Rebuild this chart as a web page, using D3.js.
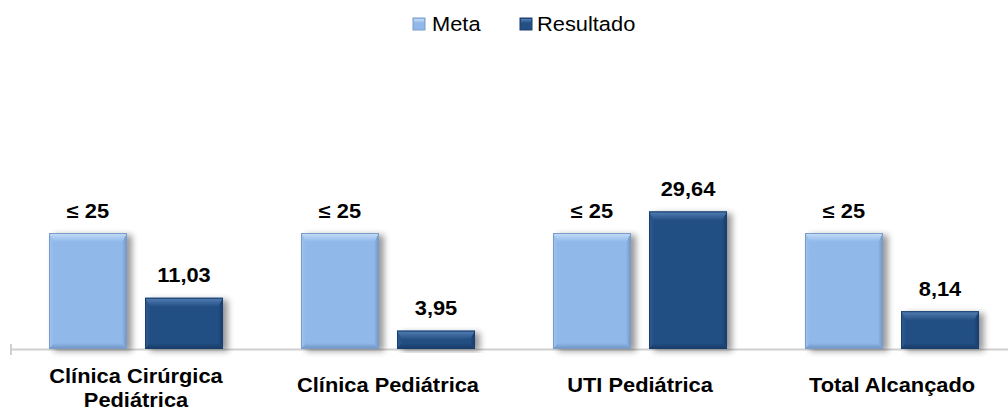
<!DOCTYPE html>
<html>
<head>
<meta charset="utf-8">
<script src="https://cdn.jsdelivr.net/npm/d3@7"></script>
<style>
  body { margin: 0; background: #fff; }
  svg { display: block; font-family: "Liberation Sans", Arial, sans-serif; }
</style>
</head>
<body>
<svg></svg>
<script>
"use strict";

const categories = ["Clínica Cirúrgica\nPediátrica", "Clínica Pediátrica", "UTI Pediátrica", "Total Alcançado"];
const seriesNames = ["Meta", "Resultado"];
const metaValues = [25, 25, 25, 25];
const metaLabels = ["≤ 25", "≤ 25", "≤ 25", "≤ 25"];
const resultValues = [11.03, 3.95, 29.64, 8.14];

const width = 1008;
const height = 417;
const stretch = 1.12;

const colors = {
  Meta: { face: "#90b8e9", top: "#c6def8", left: "#9fc3ee", right: "#6e93c2", bottom: "#6f92c0", edge: "#7a9ccb" },
  Resultado: { face: "#244f83", top: "#5580b6", left: "#2f5c93", right: "#163a66", bottom: "#163a66", edge: "#1a3f6c" }
};

const svg = d3.select("svg").attr("width", width).attr("height", height);

const defs = svg.append("defs");
defs.append("filter").attr("id", "shadow")
  .attr("x", "-20%").attr("y", "-20%").attr("width", "150%").attr("height", "140%")
  .append("feDropShadow")
  .attr("dx", 5).attr("dy", 2).attr("stdDeviation", 3)
  .attr("flood-color", "#000").attr("flood-opacity", 0.4);

// bevel gradients per series and side
const gradDirs = {
  top: [0, 0, 0, 1], bottom: [0, 1, 0, 0], left: [0, 0, 1, 0], right: [1, 0, 0, 0]
};
seriesNames.forEach((name) => {
  const c = colors[name];
  Object.keys(gradDirs).forEach((side) => {
    const d = gradDirs[side];
    const g = defs.append("linearGradient").attr("id", `g-${name}-${side}`)
      .attr("x1", d[0]).attr("y1", d[1]).attr("x2", d[2]).attr("y2", d[3]);
    g.append("stop").attr("offset", 0).attr("stop-color", c[side]);
    g.append("stop").attr("offset", 1).attr("stop-color", c.face);
  });
});

const x = d3.scaleBand().domain(categories).range([10, 1018]).padding(0);
const xs = d3.scaleBand().domain(seriesNames).range([0, x.bandwidth()])
  .paddingInner(0.1875).paddingOuter(0.406);
const y = d3.scaleLinear().domain([0, 25]).range([349, 233]);

const label = (g, px, py, str, size, weight) =>
  g.append("text")
    .attr("transform", `translate(${px},${py}) scale(${stretch},1)`)
    .attr("text-anchor", "middle")
    .attr("font-size", size)
    .attr("font-weight", weight)
    .attr("fill", "#000")
    .text(str);

// axis line + single left tick
const axis = svg.append("g");
axis.append("line")
  .attr("x1", x.range()[0]).attr("x2", width)
  .attr("y1", y(0) + 0.5).attr("y2", y(0) + 0.5)
  .attr("stroke", "#cfcfcf").attr("stroke-width", 2);
axis.append("line")
  .attr("x1", x.range()[0] + 1).attr("x2", x.range()[0] + 1)
  .attr("y1", y(0) - 5).attr("y2", y(0) + 6)
  .attr("stroke", "#cfcfcf").attr("stroke-width", 2);

// bars with bevel
const drawBar = (g, x0, w, v, name) => {
  const c = colors[name];
  const y0 = y(v), y1 = y(0), x1 = x0 + w;
  const h = y1 - y0;
  const bt = Math.min(9, h / 2), bb = Math.min(6, h / 2), bs = 5;
  const bar = g.append("g");
  bar.append("rect")
    .attr("x", x0).attr("y", y0).attr("width", w).attr("height", h)
    .attr("fill", c.face).attr("filter", "url(#shadow)");
  const poly = (pts, side) => bar.append("polygon")
    .attr("points", pts.map((p) => p.join(",")).join(" "))
    .attr("fill", `url(#g-${name}-${side})`);
  poly([[x0, y0], [x0 + bs, y0 + bt], [x0 + bs, y1 - bb], [x0, y1]], "left");
  poly([[x1, y0], [x1, y1], [x1 - bs, y1 - bb], [x1 - bs, y0 + bt]], "right");
  poly([[x0, y0], [x1, y0], [x1 - bs, y0 + bt], [x0 + bs, y0 + bt]], "top");
  poly([[x0, y1], [x0 + bs, y1 - bb], [x1 - bs, y1 - bb], [x1, y1]], "bottom");
  bar.append("rect")
    .attr("x", x0 + 0.5).attr("y", y0 + 0.5).attr("width", w - 1).attr("height", h - 1)
    .attr("fill", "none").attr("stroke", c.edge).attr("stroke-width", 1);
};

const plot = svg.append("g");
categories.forEach((cat, i) => {
  const cx = x(cat);
  const mx = cx + xs("Meta");
  const rx = cx + xs("Resultado");
  drawBar(plot, mx, xs.bandwidth(), metaValues[i], "Meta");
  drawBar(plot, rx, xs.bandwidth(), resultValues[i], "Resultado");
  label(plot, mx + xs.bandwidth() / 2, y(metaValues[i]) - 15.5, metaLabels[i], 19.5, "bold");
  label(plot, rx + xs.bandwidth() / 2, y(resultValues[i]) - 15.5,
    d3.format(".2f")(resultValues[i]).replace(".", ","), 19.5, "bold");

  const lines = cat.split("\n");
  const base = lines.length > 1 ? 383 : 391.5;
  lines.forEach((ln, j) => {
    label(plot, cx + x.bandwidth() / 2, base + j * 23.5, ln, 19.5, "bold");
  });
});

// legend
const legend = svg.append("g");
const legendItems = [
  { name: "Meta", sx: 413, tx: 432 },
  { name: "Resultado", sx: 520, tx: 537 }
];
legendItems.forEach((d) => {
  const c = colors[d.name];
  legend.append("rect").attr("x", d.sx).attr("y", 18).attr("width", 12).attr("height", 12)
    .attr("fill", c.face).attr("stroke", c.edge).attr("stroke-width", 1);
  legend.append("rect").attr("x", d.sx + 1).attr("y", 19).attr("width", 10).attr("height", 4)
    .attr("fill", `url(#g-${d.name}-top)`);
  legend.append("text")
    .attr("transform", `translate(${d.tx},31) scale(${stretch},1)`)
    .attr("font-size", 19.5)
    .attr("fill", "#000")
    .text(d.name);
});
</script>
</body>
</html>
